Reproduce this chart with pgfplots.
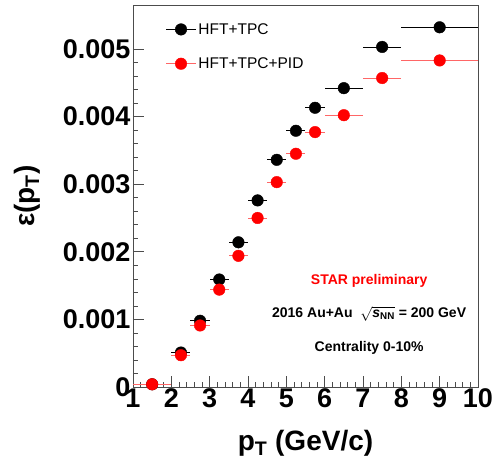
\documentclass[border=0pt]{standalone}
\usepackage{pgfplots}
\pgfplotsset{compat=1.18}
\usepackage{fontspec}
\setmainfont{Liberation Sans}
\begin{document}
\begin{tikzpicture}
\path[use as bounding box] (-133pt,-79pt) rectangle (360pt,387pt);
\begin{axis}[
  at={(0,0)}, anchor=south west,
  scale only axis, width=345pt, height=382pt,
  xmin=1, xmax=10, ymin=0, ymax=0.00565,
  clip=false,
  xtick={1,2,3,4,5,6,7,8,9,10},
  ytick={0,0.001,0.002,0.003,0.004,0.005},
  yticklabels={0,0.001,0.002,0.003,0.004,0.005},
  minor x tick num=4, minor y tick num=4,
  tick pos=left, tick align=inside,
  major tick length=11pt, minor tick length=5.5pt,
  every tick/.style={black!70, line width=0.6pt},
  axis line style={black!70, line width=0.8pt},
  tick label style={font=\fontsize{27}{27}\selectfont\bfseries},
  /pgf/number format/assume math mode=true,
  xticklabel style={yshift=2pt},
  yticklabel style={xshift=1pt},
  xlabel={p\textsubscript{T} (GeV/c)},
  ylabel={ε(p\textsubscript{T})},
  label style={font=\fontsize{28}{30}\selectfont\bfseries},
  xlabel style={at={(axis description cs:0.5,-0.147)}, anchor=center},
  ylabel style={at={(axis description cs:-0.307,0.5)}, anchor=center},
  legend style={at={(axis description cs:0.094,0.958)}, anchor=north west, draw=none, fill=none,
    font=\fontsize{15.5}{15.5}\selectfont, row sep=18pt, inner sep=0pt},
  legend cell align=left,
]
\addlegendimage{legend image code/.code={\draw[black, line width=0.8pt] (0pt,0pt) -- (30pt,0pt);
  \draw[black, mark=*, mark size=5.8pt, mark options={fill=black}] plot coordinates {(15pt,0pt)};}}
\addlegendentry{HFT+TPC}
\addlegendimage{legend image code/.code={\draw[red!60, line width=0.8pt] (0pt,0pt) -- (30pt,0pt);
  \draw[red, mark=*, mark size=5.8pt, mark options={fill=red}] plot coordinates {(15pt,0pt)};}}
\addlegendentry{HFT+TPC+PID}

\addplot[forget plot, only marks, mark=*, mark size=5.8pt, black, mark options={fill=black},
  error bars/.cd, x dir=both, x explicit, error mark=none,
  error bar style={line width=0.8pt, black}]
coordinates {
(1.5,0.00004) +- (0.5,0)
(2.25,0.00051) +- (0.25,0)
(2.75,0.00098) +- (0.25,0)
(3.25,0.00159) +- (0.25,0)
(3.75,0.00214) +- (0.25,0)
(4.25,0.00276) +- (0.25,0)
(4.75,0.00336) +- (0.25,0)
(5.25,0.00379) +- (0.25,0)
(5.75,0.00413) +- (0.25,0)
(6.5,0.00442) +- (0.5,0)
(7.5,0.00503) +- (0.5,0)
(9,0.00532) +- (1,0)
};
\addplot[forget plot, only marks, mark=*, mark size=5.8pt, red, mark options={fill=red},
  error bars/.cd, x dir=both, x explicit, error mark=none,
  error bar style={line width=0.8pt, red!60}]
coordinates {
(1.5,0.00004) +- (0.5,0)
(2.25,0.00047) +- (0.25,0)
(2.75,0.00091) +- (0.25,0)
(3.25,0.00144) +- (0.25,0)
(3.75,0.00194) +- (0.25,0)
(4.25,0.00250) +- (0.25,0)
(4.75,0.00303) +- (0.25,0)
(5.25,0.00345) +- (0.25,0)
(5.75,0.00377) +- (0.25,0)
(6.5,0.00402) +- (0.5,0)
(7.5,0.00457) +- (0.5,0)
(9,0.00483) +- (1,0)
};
\node[text=red, font=\fontsize{14}{14}\selectfont\bfseries] at (axis cs:7.16,0.00157) {STAR preliminary};
\node[font=\fontsize{14}{14}\selectfont\bfseries] at (axis cs:7.16,0.00108) {2016 Au+Au\ \ $\sqrt{\textit{s}\textsubscript{NN}}$ = 200 GeV};
\node[font=\fontsize{14}{14}\selectfont\bfseries] at (axis cs:7.16,0.00058) {Centrality 0-10\%};
\end{axis}
\end{tikzpicture}
\end{document}
